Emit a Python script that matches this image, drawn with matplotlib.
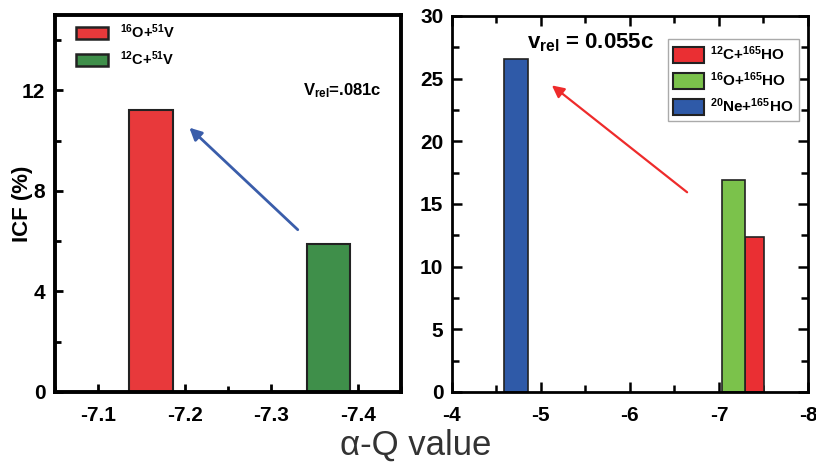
import matplotlib
matplotlib.use('Agg')
import matplotlib.pyplot as plt
from matplotlib.patches import Patch
from matplotlib.ticker import MultipleLocator

plt.rcParams['font.family'] = ['Liberation Sans', 'DejaVu Sans']
plt.rcParams['axes.unicode_minus'] = False
plt.rcParams['mathtext.fontset'] = 'custom'
plt.rcParams['mathtext.rm'] = 'Liberation Sans:bold'
plt.rcParams['mathtext.bf'] = 'Liberation Sans:bold'
plt.rcParams['mathtext.it'] = 'Liberation Sans:bold'

# left panel data (V target)
left_labels = [r'$^{16}$O+$^{51}$V', r'$^{12}$C+$^{51}$V']
left_x = [-7.161, -7.366]
left_icf = [11.23, 5.88]
left_colors = ['#e8393b', '#3f8f4a']

# right panel data (Ho target)
right_labels = [r'$^{12}$C+$^{165}$HO', r'$^{16}$O+$^{165}$HO', r'$^{20}$Ne+$^{165}$HO']
right_x = [-7.40, -7.16, -4.725]
right_w = [0.215, 0.26, 0.27]
right_icf = [12.35, 16.9, 26.55]
right_colors = ['#ea2f33', '#7bc24b', '#2f5aa8']

fig = plt.figure(figsize=(8.16, 4.69), dpi=100)
ax1 = fig.add_axes([0.0674, 0.1642, 0.424, 0.804])
ax2 = fig.add_axes([0.5536, 0.1642, 0.4366, 0.8017])

# ---- left
for x, h, c in zip(left_x, left_icf, left_colors):
    ax1.bar(x, h, width=0.05, color=c, edgecolor='#222222', linewidth=1.5, zorder=2)
ax1.set_xlim(-7.05, -7.45)
ax1.set_ylim(0, 15)
ax1.xaxis.set_major_locator(MultipleLocator(0.1))
ax1.xaxis.set_minor_locator(MultipleLocator(0.05))
ax1.yaxis.set_major_locator(MultipleLocator(4))
ax1.yaxis.set_minor_locator(MultipleLocator(2))
ax1.tick_params(which='both', direction='in', width=2, labelsize=15, top=False, right=False)
ax1.tick_params(which='major', length=6)
ax1.tick_params(which='minor', length=4)
ax1.tick_params(axis='x', pad=10)
ax1.tick_params(axis='y', pad=7)
for lab in ax1.get_xticklabels() + ax1.get_yticklabels():
    lab.set_fontweight('bold')
for s in ax1.spines.values():
    s.set_linewidth(2.8)
ax1.set_ylabel('ICF (%)', fontsize=16, fontweight='bold')
ax1.yaxis.set_label_coords(-0.064, 0.5)
ax1.annotate('', xy=(-7.203, 10.59), xytext=(-7.333, 6.38),
             arrowprops=dict(arrowstyle='-|>', color='#3a5daa', lw=2, mutation_scale=18))
ax1.text(-7.337, 12.0, r'V$_{rel}$=.081c', fontsize=12, fontweight='bold', va='center')
h1 = [Patch(facecolor=c, edgecolor='#222222', linewidth=1.8) for c in left_colors]
ax1.legend(h1, left_labels, loc='upper left', bbox_to_anchor=(0.045, 0.995), frameon=False,
           prop={'weight': 'bold', 'size': 10.5}, handlelength=2.2, handleheight=0.85,
           labelspacing=0.55, handletextpad=0.8, borderaxespad=0)

# ---- right
for x, w, h, c in zip(right_x, right_w, right_icf, right_colors):
    ax2.bar(x, h, width=w, color=c, edgecolor='#222222', linewidth=1.2, zorder=2)
ax2.set_xlim(-4, -8)
ax2.set_ylim(0, 30)
ax2.xaxis.set_major_locator(MultipleLocator(1))
ax2.xaxis.set_minor_locator(MultipleLocator(0.5))
ax2.yaxis.set_major_locator(MultipleLocator(5))
ax2.yaxis.set_minor_locator(MultipleLocator(2.5))
ax2.tick_params(which='both', direction='in', width=1.8, labelsize=15, top=True, right=True)
ax2.tick_params(which='major', length=7)
ax2.tick_params(which='minor', length=5)
ax2.tick_params(axis='x', pad=10)
ax2.tick_params(axis='y', pad=6)
for lab in ax2.get_xticklabels() + ax2.get_yticklabels():
    lab.set_fontweight('bold')
for s in ax2.spines.values():
    s.set_linewidth(2)
ax2.annotate('', xy=(-5.10, 24.6), xytext=(-6.667, 15.8),
             arrowprops=dict(arrowstyle='-|>', color='#ee2b2b', lw=1.6, mutation_scale=18))
ax2.text(-4.84, 27.9, r'v$_{rel}$ = 0.055c', fontsize=16, fontweight='bold', va='center')
h2 = [Patch(facecolor=c, edgecolor='#222222', linewidth=1.5) for c in right_colors]
leg = ax2.legend(h2, right_labels, loc='upper left', bbox_to_anchor=(0.607, 0.939),
                 prop={'weight': 'bold', 'size': 11},
                 handlelength=2.0, handleheight=1.2, labelspacing=0.5, handletextpad=0.4,
                 borderaxespad=0, borderpad=0.35, fancybox=False, framealpha=1)
leg.get_frame().set_edgecolor('#aaaaaa')
leg.get_frame().set_linewidth(1)

fig.text(0.51, 0.05, '\u03b1-Q value', ha='center', va='center',
         fontsize=25, color='#333333')

fig.savefig('out.png', dpi=100)
